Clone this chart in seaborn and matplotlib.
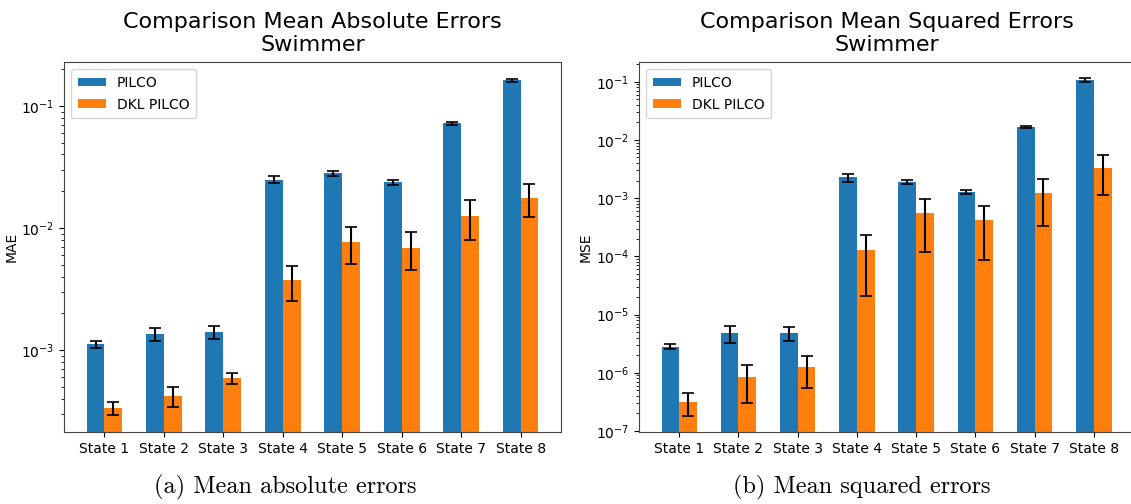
import numpy as np
import pandas as pd
import matplotlib
matplotlib.use("Agg")
import matplotlib.pyplot as plt
import seaborn as sns

states = ["State 1", "State 2", "State 3", "State 4",
          "State 5", "State 6", "State 7", "State 8"]
models = ["PILCO", "DKL PILCO"]

# Mean absolute error per state, with standard deviation
mae_pilco = [1.11e-3, 1.35e-3, 1.40e-3, 2.49e-2, 2.81e-2, 2.37e-2, 7.21e-2, 1.62e-1]
mae_pilco_err = [0.07e-3, 0.17e-3, 0.18e-3, 0.17e-2, 0.14e-2, 0.11e-2, 0.23e-2, 0.55e-2]
mae_dkl = [3.33e-4, 4.22e-4, 5.90e-4, 3.72e-3, 7.63e-3, 6.90e-3, 1.247e-2, 1.76e-2]
mae_dkl_err = [0.41e-4, 0.80e-4, 0.63e-4, 1.20e-3, 2.56e-3, 2.40e-3, 0.45e-2, 0.52e-2]

# Mean squared error per state, with standard deviation
mse_pilco = [2.81e-6, 4.84e-6, 4.87e-6, 2.27e-3, 1.88e-3, 1.26e-3, 1.67e-2, 1.083e-1]
mse_pilco_err = [0.29e-6, 1.58e-6, 1.35e-6, 0.36e-3, 0.15e-3, 0.10e-3, 0.04e-2, 0.78e-2]
mse_dkl = [3.15e-7, 8.41e-7, 1.236e-6, 1.276e-4, 5.48e-4, 4.15e-4, 1.213e-3, 3.28e-3]
mse_dkl_err = [1.33e-7, 5.4e-7, 0.69e-6, 1.07e-4, 4.3e-4, 3.3e-4, 0.88e-3, 2.17e-3]

colors = ["#1f77b4", "#ff7f0e"]


def long_table(v_a, e_a, v_b, e_b):
    return pd.DataFrame({
        "state": states * 2,
        "model": [models[0]] * len(states) + [models[1]] * len(states),
        "value": list(v_a) + list(v_b),
        "err": list(e_a) + list(e_b),
    })


def draw(ax, df, ylabel, title, ylim):
    sns.barplot(data=df, x="state", y="value", hue="model", order=states,
                hue_order=models, palette=colors, saturation=1, width=0.6,
                errorbar=None, ax=ax, linewidth=0)
    ax.set_yscale("log")
    # error bars at the centre of each bar
    for patch, (_, row) in zip(ax.patches, df.iterrows()):
        cx = patch.get_x() + patch.get_width() / 2
        ax.errorbar(cx, row["value"], yerr=row["err"], color="black",
                    capsize=4, elinewidth=1.5, capthick=1.2, fmt="none")
    ax.set_ylim(*ylim)
    ax.set_xlabel("")
    ax.set_ylabel(ylabel, fontsize=10, labelpad=2)
    ax.set_title(title, fontsize=16, pad=8)
    ax.tick_params(axis="both", labelsize=10)
    ax.legend(loc="upper left", fontsize=10, title=None,
              handlelength=2.0, handleheight=0.6, handletextpad=0.8,
              borderpad=0.5, labelspacing=0.55)
    for s in ax.spines.values():
        s.set_color("#444444")


fig = plt.figure(figsize=(11.31, 5.04), dpi=100)
ax1 = fig.add_axes([64 / 1131, 72 / 504, 497 / 1131, 370 / 504])
ax2 = fig.add_axes([639 / 1131, 72 / 504, 495 / 1131, 370 / 504])

draw(ax1, long_table(mae_pilco, mae_pilco_err, mae_dkl, mae_dkl_err), "MAE",
     "Comparison Mean Absolute Errors\nSwimmer", (2.13e-4, 0.229))
draw(ax2, long_table(mse_pilco, mse_pilco_err, mse_dkl, mse_dkl_err), "MSE",
     "Comparison Mean Squared Errors\nSwimmer", (9.6e-8, 0.218))

fig.text(285 / 1131, 1 - 487 / 504, "(a) Mean absolute errors",
         family="cmr10", fontsize=17.5, ha="center", va="center")
fig.text(862 / 1131, 1 - 487 / 504, "(b) Mean squared errors",
         family="cmr10", fontsize=17.5, ha="center", va="center")

fig.savefig("out.png", dpi=100)
